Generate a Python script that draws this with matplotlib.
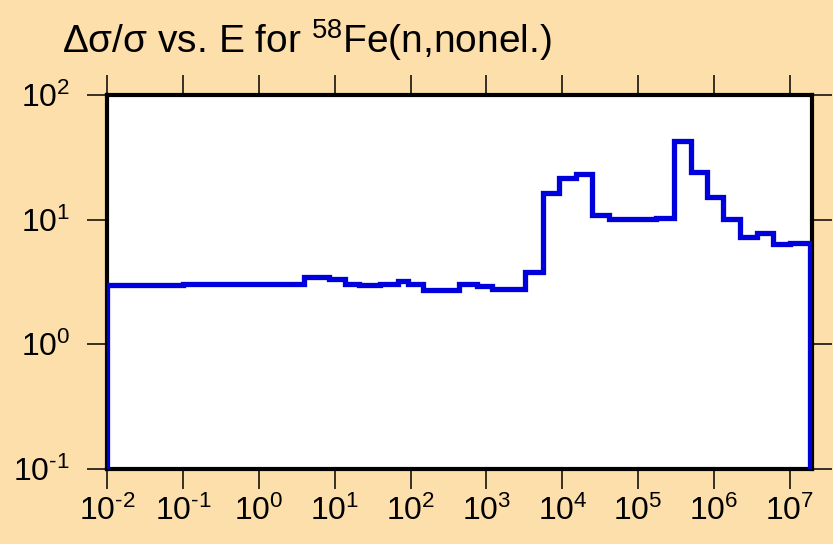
import numpy as np
import matplotlib
matplotlib.use('Agg')
import matplotlib.pyplot as plt
from matplotlib.ticker import FuncFormatter

plt.rcParams['font.family'] = ['Liberation Sans', 'DejaVu Sans']
plt.rcParams['mathtext.fontset'] = 'custom'
plt.rcParams['mathtext.rm'] = 'Liberation Sans'
plt.rcParams['mathtext.it'] = 'Liberation Sans:italic'

# energy group boundaries (eV) and relative uncertainty (%) per group
edges = [1e-2, 1e-1, 0.53, 3.9, 8.3, 13.5, 21, 39, 68, 93, 145, 430, 760,
         1.2e3, 3.2e3, 5.5e3, 9.1e3, 1.5e4, 2.45e4, 4.1e4, 1.74e5, 2.95e5,
         5.0e5, 8.1e5, 1.32e6, 2.2e6, 3.7e6, 6.0e6, 1.0e7, 1.85e7]
rel_unc = [2.99, 3.06, 3.03, 3.45, 3.34, 3.05, 2.99, 3.05, 3.22, 3.05,
           2.74, 3.03, 2.95, 2.77, 3.83, 16.5, 21.7, 23.1, 10.8, 10.2,
           10.3, 42.8, 24.3, 15.2, 10.05, 7.25, 7.85, 6.4, 6.5]
xticks = [1e-2, 1e-1, 1e0, 1e1, 1e2, 1e3, 1e4, 1e5, 1e6, 1e7]
yticks = [1e-1, 1e0, 1e1, 1e2]


def pow10(v, pos):
    e = int(round(np.log10(v)))
    s = str(e).replace('-', '\u2010')
    return r'$\mathregular{10^{%s}}$' % s


bg = '#fddfab'
fig = plt.figure(figsize=(8.33, 5.44), dpi=100, facecolor=bg)
ax = fig.add_axes([107/833, 1 - 469/544, (812 - 107)/833, (469 - 95)/544])

ax.stairs(rel_unc, edges, baseline=1e-1, color='#0000dd', lw=3.8, zorder=3)

ax.set_xscale('log')
ax.set_yscale('log')
ax.set_xlim(1e-2, 1.95e7)
ax.set_ylim(1e-1, 1e2)
ax.set_xticks(xticks)
ax.set_yticks(yticks)
ax.minorticks_off()
ax.xaxis.set_major_formatter(FuncFormatter(pow10))
ax.yaxis.set_major_formatter(FuncFormatter(pow10))
ax.tick_params(which='major', direction='out', length=14.5, width=1.1,
               labelsize=23, top=True, right=True)
ax.tick_params(axis='x', pad=5)
ax.tick_params(axis='y', pad=12)
for s in ax.spines.values():
    s.set_linewidth(3)

fig.text(62/833, 1 - 53/544, r'Δσ/σ vs. E for $^{58}$Fe(n,nonel.)',
         fontsize=28, va='baseline', ha='left')

fig.savefig('out.png', dpi=100, facecolor=bg)
